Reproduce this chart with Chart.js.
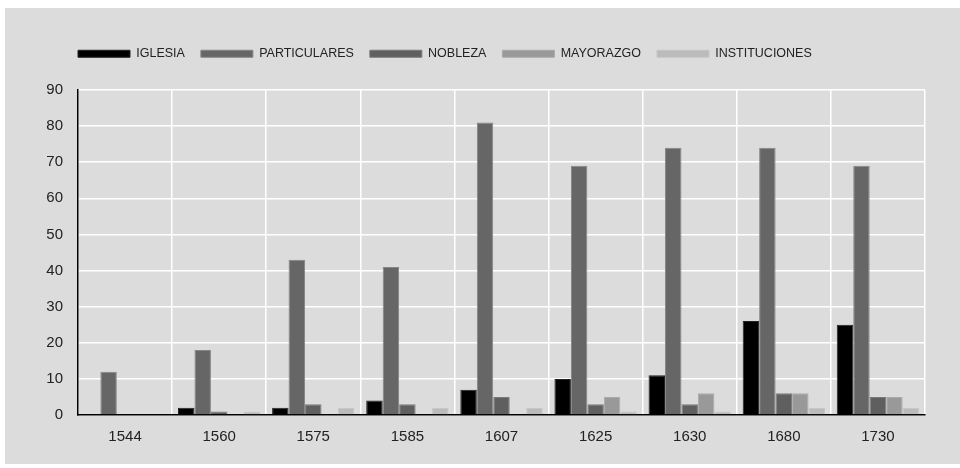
<!DOCTYPE html>
<html>
<head>
<meta charset="utf-8">
<script src="https://cdn.jsdelivr.net/npm/chart.js@4.4.1/dist/chart.umd.min.js"></script>
<style>
  html, body { margin: 0; padding: 0; background: #fff; }
  #box { position: absolute; left: 5px; top: 8px; width: 955px; height: 456px; background: #dcdcdc; }
  canvas { display: block; }
</style>
</head>
<body>
<div id="box"><canvas id="barChart" width="955" height="456"></canvas></div>
<script>
var years = ["1544", "1560", "1575", "1585", "1607", "1625", "1630", "1680", "1730"];
var iglesia = [0, 2, 2, 4, 7, 10, 11, 26, 25];
var particulares = [12, 18, 43, 41, 81, 69, 74, 74, 69];
var nobleza = [0, 1, 3, 3, 5, 3, 3, 6, 5];
var mayorazgo = [0, 0, 0, 0, 0, 5, 6, 6, 5];
var instituciones = [0, 1, 2, 2, 2, 1, 1, 2, 2];
var yTicks = [0, 10, 20, 30, 40, 50, 60, 70, 80, 90];

var font = "'Liberation Sans', Arial, Helvetica, sans-serif";

// moves the legend to where the reference draws it (left of plot, higher up)
var legendShift = {
  id: 'legendShift',
  afterLayout: function (chart) {
    var lg = chart.legend;
    lg.left += 57;
    lg.top -= 20;
    lg.bottom -= 20;
  }
};

function ds(label, data, color, edge) {
  return {
    label: label,
    data: data,
    backgroundColor: color,
    borderColor: edge,
    borderWidth: 1,
    borderSkipped: 'start'
  };
}

var ctx = document.getElementById("barChart").getContext("2d");
new Chart(ctx, {
  type: 'bar',
  data: {
    labels: years,
    datasets: [
      ds("IGLESIA", iglesia, "#000000", "#222222"),
      ds("PARTICULARES", particulares, "#666666", "#858585"),
      ds("NOBLEZA", nobleza, "#5f5f5f", "#7a7a7a"),
      ds("MAYORAZGO", mayorazgo, "#999999", "#aaaaaa"),
      ds("INSTITUCIONES", instituciones, "#bbbbbb", "#c6c6c6")
    ]
  },
  options: {
    responsive: false,
    animation: false,
    devicePixelRatio: 1,
    layout: { padding: { left: 0, right: 35, top: 43.5, bottom: 0 } },
    datasets: { bar: { categoryPercentage: 0.875, barPercentage: 1 } },
    plugins: {
      tooltip: { enabled: false },
      legend: {
        position: 'top',
        align: 'start',
        labels: {
          boxWidth: 52,
          boxHeight: 7,
          padding: 16,
          color: '#222',
          font: { family: font, size: 12.5 }
        }
      }
    },
    scales: {
      x: {
        grid: { color: '#ffffff', lineWidth: 1.5, drawTicks: false, offset: true },
        border: { color: '#000', width: 1.5 },
        ticks: { color: '#222', padding: 13, font: { family: font, size: 15 } },
        afterFit: function (scale) { scale.height = 49; }
      },
      y: {
        min: 0,
        max: 90,
        afterBuildTicks: function (scale) {
          scale.ticks = yTicks.map(function (v) { return { value: v }; });
        },
        grid: { color: '#ffffff', lineWidth: 1.5, drawTicks: false },
        border: { color: '#000', width: 1.5 },
        ticks: { color: '#222', padding: 15, font: { family: font, size: 15 } },
        afterFit: function (scale) { scale.width = 73; }
      }
    }
  },
  plugins: [legendShift]
});
</script>
</body>
</html>
